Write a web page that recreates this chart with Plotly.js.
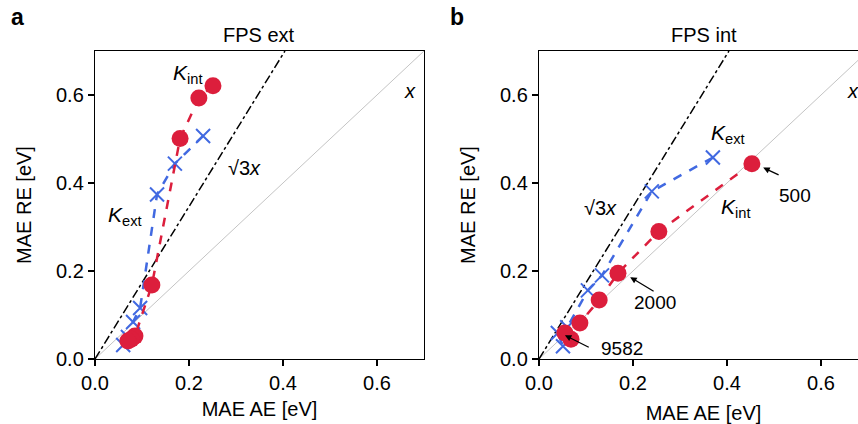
<!DOCTYPE html>
<html><head><meta charset="utf-8">
<script src="https://cdn.plot.ly/plotly-3.0.1.min.js"></script>
<style>html,body{margin:0;padding:0;overflow:hidden;background:#fff;}#c{width:880px;height:424px;}</style>
</head><body><div id="c"></div>
<script>
// Panel a: FPS ext
const aIntX = [0.251, 0.221, 0.181, 0.121, 0.085, 0.077, 0.070];
const aIntY = [0.621, 0.593, 0.501, 0.168, 0.052, 0.045, 0.041];
const aExtX = [0.230, 0.170, 0.132, 0.096, 0.081, 0.070, 0.060];
const aExtY = [0.507, 0.444, 0.374, 0.116, 0.084, 0.050, 0.032];
// Panel b: FPS int
const bIntX = [0.453, 0.255, 0.168, 0.128, 0.087, 0.068, 0.055];
const bIntY = [0.444, 0.290, 0.195, 0.134, 0.082, 0.045, 0.059];
const bExtX = [0.370, 0.240, 0.134, 0.104, 0.060, 0.051, 0.040];
const bExtY = [0.458, 0.381, 0.190, 0.156, 0.072, 0.029, 0.059];
const refX = [0, 0.7];
const sqrt3X = [0, 0.7 / Math.sqrt(3)];
const tickVals = [0, 0.2, 0.4, 0.6];
const tickText = ['0.0', '0.2', '0.4', '0.6'];

const RED = '#dc1e3c', BLUE = '#4169e1';
const FONT = 'Liberation Sans, Arial, Helvetica, sans-serif';

function panel(xa, ya, intX, intY, extX, extY) {
  return [
    {x: refX, y: refX, xaxis: xa, yaxis: ya, mode: 'lines', line: {color: '#c4c4c4', width: 1}, hoverinfo: 'skip'},
    {x: sqrt3X, y: sqrt3X.map(v => v * Math.sqrt(3)), xaxis: xa, yaxis: ya, mode: 'lines', line: {color: '#000', width: 1.5, dash: 'dashdot'}},
    {x: extX, y: extY, xaxis: xa, yaxis: ya, mode: 'lines+markers', line: {color: BLUE, width: 2.5, dash: 'dash'},
     marker: {symbol: 'x-thin-open', size: 14, line: {color: BLUE, width: 2}}},
    {x: intX, y: intY, xaxis: xa, yaxis: ya, mode: 'lines+markers', line: {color: RED, width: 2.5, dash: 'dash'},
     marker: {symbol: 'circle', size: 17, color: RED}}
  ];
}

const data = [...panel('x', 'y', aIntX, aIntY, aExtX, aExtY), ...panel('x2', 'y2', bIntX, bIntY, bExtX, bExtY)];

function ax(domain, anchor, title, standoff) {
  return {
    domain: domain, anchor: anchor, range: [0, 0.7], tickvals: tickVals, ticktext: tickText,
    showgrid: false, zeroline: false, showline: true, linecolor: '#000', linewidth: 1.2, mirror: true,
    ticks: 'outside', ticklen: 6, tickwidth: 1.2, tickcolor: '#000',
    tickfont: {size: 20, color: '#000', family: FONT},
    title: {text: title, font: {size: 20, color: '#000', family: FONT}, standoff: standoff}
  };
}

function txt(xr, yr, x, y, text, size) {
  return {xref: xr, yref: yr, x: x, y: y, text: text, showarrow: false,
          font: {size: size || 19, color: '#000', family: FONT}};
}
function arrow(xr, yr, x, y, tx, ty) {
  return {xref: xr, yref: yr, x: x, y: y, axref: xr, ayref: yr, ax: tx, ay: ty, text: '',
          showarrow: true, arrowhead: 2, arrowsize: 1, arrowwidth: 1.3, arrowcolor: '#000', standoff: 0};
}

const annotations = [
  txt('x', 'y', 0.198, 0.648, '<i>K</i><sub>int</sub>', 21),
  txt('x', 'y', 0.064, 0.324, '<i>K</i><sub>ext</sub>', 21),
  txt('x', 'y', 0.319, 0.433, '√3<i>x</i>', 20),
  txt('x', 'y', 0.670, 0.609, '<i>x</i>', 20),
  txt('x2', 'y2', 0.402, 0.512, '<i>K</i><sub>ext</sub>', 21),
  txt('x2', 'y2', 0.419, 0.344, '<i>K</i><sub>int</sub>', 21),
  txt('x2', 'y2', 0.130, 0.344, '√3<i>x</i>', 20),
  txt('x2', 'y2', 0.668, 0.609, '<i>x</i>', 20),
  txt('x2', 'y2', 0.545, 0.371, '500'),
  txt('x2', 'y2', 0.247, 0.129, '2000'),
  txt('x2', 'y2', 0.176, 0.024, '9582'),
  arrow('x2', 'y2', 0.477, 0.435, 0.513, 0.417),
  arrow('x2', 'y2', 0.194, 0.186, 0.247, 0.152),
  arrow('x2', 'y2', 0.055, 0.054, 0.109, 0.025),
  {xref: 'x domain', yref: 'paper', x: 0.5, y: 1, yanchor: 'bottom', yshift: 3, text: 'FPS ext', showarrow: false, font: {size: 20, color: '#000', family: FONT}},
  {xref: 'x2 domain', yref: 'paper', x: 0.5, y: 1, yanchor: 'bottom', yshift: 3, text: 'FPS int', showarrow: false, font: {size: 20, color: '#000', family: FONT}},
  {xref: 'paper', yref: 'paper', x: -0.1, y: 1.11, xanchor: 'center', yanchor: 'middle', text: '<b>a</b>', showarrow: false, font: {size: 23, color: '#000', family: FONT}},
  {xref: 'paper', yref: 'paper', x: 0.4685, y: 1.11, xanchor: 'center', yanchor: 'middle', text: '<b>b</b>', showarrow: false, font: {size: 23, color: '#000', family: FONT}}
];

const layout = {
  width: 880, height: 424,
  margin: {l: 95, r: 12, t: 51, b: 65},
  paper_bgcolor: '#fff', plot_bgcolor: '#fff',
  showlegend: false,
  xaxis: ax([0, 0.4256], 'y', 'MAE AE [eV]', 8),
  yaxis: ax([0, 1], 'x', 'MAE RE [eV]', 19),
  xaxis2: ax([0.5744, 1], 'y2', 'MAE AE [eV]', 12),
  yaxis2: ax([0, 1], 'x2', 'MAE RE [eV]', 19),
  annotations: annotations
};

Plotly.newPlot('c', data, layout, {staticPlot: true, displayModeBar: false});
</script></body></html>
